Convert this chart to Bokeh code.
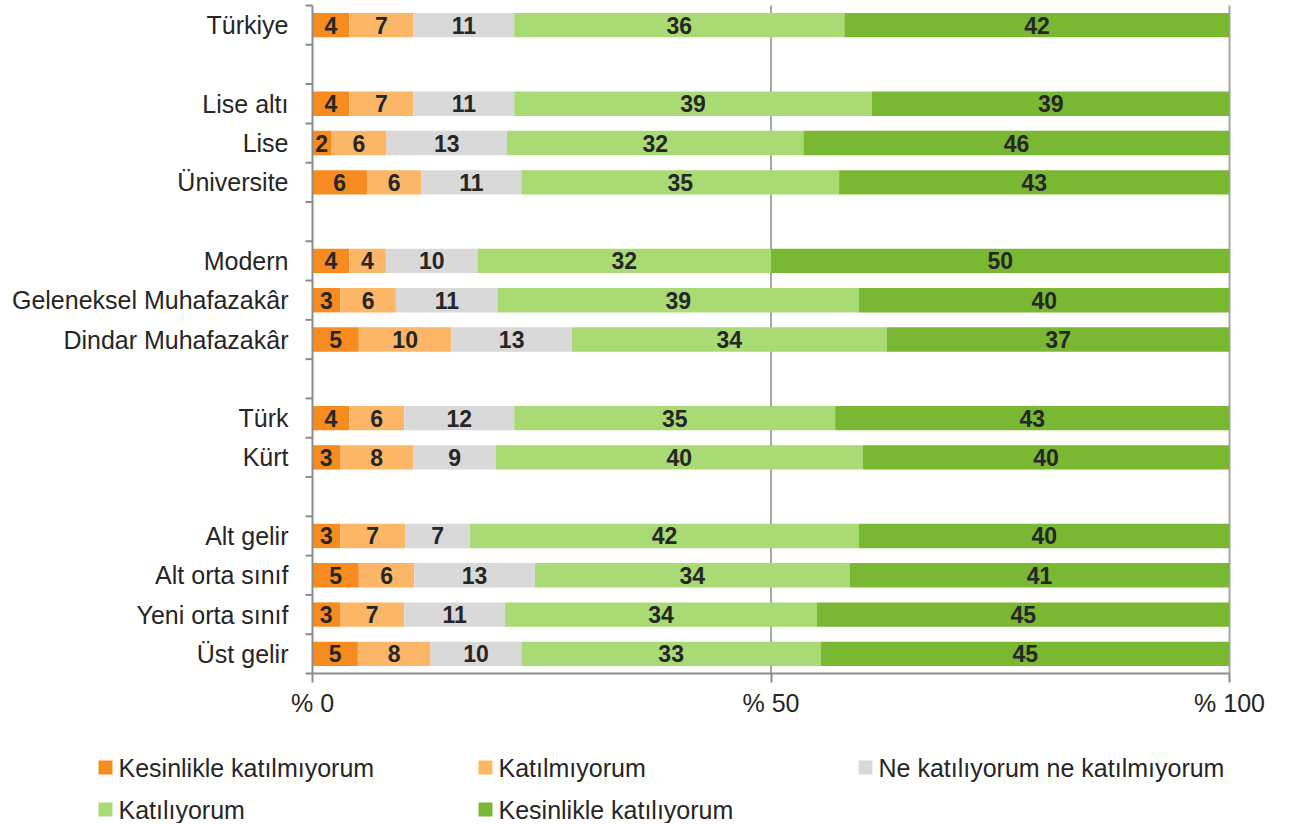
from bokeh.plotting import figure
from bokeh.models import ColumnDataSource, Range1d, FixedTicker, LinearAxis
from bokeh.embed import file_html
from bokeh.resources import INLINE
from bokeh.core.properties import value

# ---------------- data ----------------
categories = ["Türkiye",
              "Lise altı", "Lise", "Üniversite",
              "Modern", "Geleneksel Muhafazakâr", "Dindar Muhafazakâr",
              "Türk", "Kürt",
              "Alt gelir", "Alt orta sınıf", "Yeni orta sınıf", "Üst gelir"]
group_sizes = [1, 3, 3, 2, 4]

series_names = ["Kesinlikle katılmıyorum", "Katılmıyorum",
                "Ne katılıyorum ne katılmıyorum", "Katılıyorum",
                "Kesinlikle katılıyorum"]
series_colors = ["#F68B1F", "#FBB667", "#D9D9D9", "#A9DA74", "#7AB733"]

kesinlikle_katilmiyorum = [4, 4, 2, 6, 4, 3, 5, 4, 3, 3, 5, 3, 5]
katilmiyorum = [7, 7, 6, 6, 4, 6, 10, 6, 8, 7, 6, 7, 8]
ne_ne = [11, 11, 13, 11, 10, 11, 13, 12, 9, 7, 13, 11, 10]
katiliyorum = [36, 39, 32, 35, 32, 39, 34, 35, 40, 42, 34, 34, 33]
kesinlikle_katiliyorum = [42, 39, 46, 43, 50, 40, 37, 43, 40, 40, 41, 45, 45]

x_ticks = [0, 50, 100]
x_tick_labels = ["% 0", "% 50", "% 100"]

series_values = [kesinlikle_katilmiyorum, katilmiyorum, ne_ne,
                 katiliyorum, kesinlikle_katiliyorum]

# ---------------- layout constants (pixels) ----------------
FONT = "Liberation Sans"
TEXT_COLOR = "#262626"
AXIS_COLOR = "#8C8C8C"
W, H = 1289, 823
PX0, PX100 = 312, 1229      # horizontal pixel span of the 0..100 scale
PY_TOP, PY_BOT = 5, 673     # vertical pixel span of the category rows
TICK_LEN = 7

row_centers = []
r = 0
for gi, size in enumerate(group_sizes):
    for k in range(size):
        row_centers.append(r + 0.5)
        r += 1
    if gi < len(group_sizes) - 1:
        r += 1
n_rows = r
row_bounds = [float(i) for i in range(n_rows + 1)]

sx = (PX100 - PX0) / 100.0
sy = (PY_BOT - PY_TOP) / n_rows


def px_x(px):
    return (px - PX0) / sx


def px_y(py):
    return (py - PY_TOP) / sy


totals = [sum(s[i] for s in series_values) for i in range(len(categories))]

p = figure(width=W, height=H, output_backend="svg", toolbar_location=None,
           title=None,
           x_range=Range1d(px_x(0), px_x(W)), y_range=Range1d(px_y(H), px_y(0)),
           x_axis_location=None, y_axis_location=None,
           min_border=0, min_border_left=0, min_border_right=0,
           min_border_top=0, min_border_bottom=0)
p.outline_line_color = None
p.background_fill_color = "white"
p.border_fill_color = "white"
p.xgrid.grid_line_color = None
p.ygrid.grid_line_color = None
p.grid.visible = False

# vertical reference lines at the x ticks (behind the bars)
grid_x = [t for t in x_ticks if t != 0]
p.segment(x0=grid_x, y0=[0] * len(grid_x), x1=grid_x, y1=[n_rows] * len(grid_x),
          line_color="#A6A6A6", line_width=2)

# tick marks at the category row boundaries, pointing left from the axis
p.segment(x0=[px_x(PX0 - TICK_LEN)] * len(row_bounds), y0=row_bounds,
          x1=[0] * len(row_bounds), y1=row_bounds,
          line_color=AXIS_COLOR, line_width=2)

left = [0.0] * len(categories)
bar_h = 0.62
for name, vals, col in zip(series_names, series_values, series_colors):
    norm = [v / t * 100 for v, t in zip(vals, totals)]
    right = [l + n for l, n in zip(left, norm)]
    mid = [(l + rr) / 2 for l, rr in zip(left, right)]
    src = ColumnDataSource(dict(y=row_centers, left=left, right=right, mid=mid,
                                label=[str(v) for v in vals]))
    p.hbar(y="y", left="left", right="right", height=bar_h, source=src,
           fill_color=col, line_color=None)
    p.text(x="mid", y="y", text="label", source=src,
           text_font=value(FONT), text_font_style="bold", text_font_size="23px",
           text_align="center", text_baseline="middle", text_color=TEXT_COLOR)
    left = right

# x axis (drawn at the bottom of the rows)
xax = LinearAxis(fixed_location=n_rows, bounds=(0, 100),
                 ticker=FixedTicker(ticks=x_ticks))
xax.major_label_overrides = {t: l for t, l in zip(x_ticks, x_tick_labels)}
xax.axis_line_color = AXIS_COLOR
xax.axis_line_width = 2
xax.major_tick_line_color = AXIS_COLOR
xax.major_tick_line_width = 2
xax.major_tick_out = 9
xax.major_tick_in = 0
xax.minor_tick_line_color = None
xax.major_label_standoff = 6
xax.major_label_text_font = FONT
xax.major_label_text_font_size = "25px"
xax.major_label_text_color = TEXT_COLOR
p.add_layout(xax, "below")

# y axis with category labels (drawn at x = 0)
yax = LinearAxis(fixed_location=0, bounds=(0, n_rows),
                 ticker=FixedTicker(ticks=row_centers))
yax.major_label_overrides = {c: n for c, n in zip(row_centers, categories)}
yax.axis_line_color = AXIS_COLOR
yax.axis_line_width = 2
yax.major_tick_line_color = None
yax.major_tick_out = 0
yax.major_tick_in = 0
yax.minor_tick_line_color = None
yax.major_label_standoff = 24
yax.major_label_text_font = FONT
yax.major_label_text_font_size = "25px"
yax.major_label_text_color = TEXT_COLOR
p.add_layout(yax, "left")

# ---------------- legend: 3 columns, two rows ----------------
LEG_X0, LEG_PITCH, LEG_ROWS_Y, SQ = 105, 380, [767, 809], 14
lx = [px_x(LEG_X0 + LEG_PITCH * (i % 3)) for i in range(len(series_names))]
ltx = [px_x(LEG_X0 + 13 + LEG_PITCH * (i % 3)) for i in range(len(series_names))]
ly = [px_y(LEG_ROWS_Y[i // 3]) for i in range(len(series_names))]
lsrc = ColumnDataSource(dict(x=lx, tx=ltx, y=ly, name=series_names, color=series_colors))
p.rect(x="x", y="y", width=SQ, height=SQ, width_units="screen", height_units="screen",
       fill_color="color", line_color=None, source=lsrc)
p.text(x="tx", y="y", text="name", source=lsrc, text_font=value(FONT),
       text_font_size="25px", text_align="left", text_baseline="middle",
       text_color=TEXT_COLOR)

open("out.html", "w").write(file_html(p, INLINE))
